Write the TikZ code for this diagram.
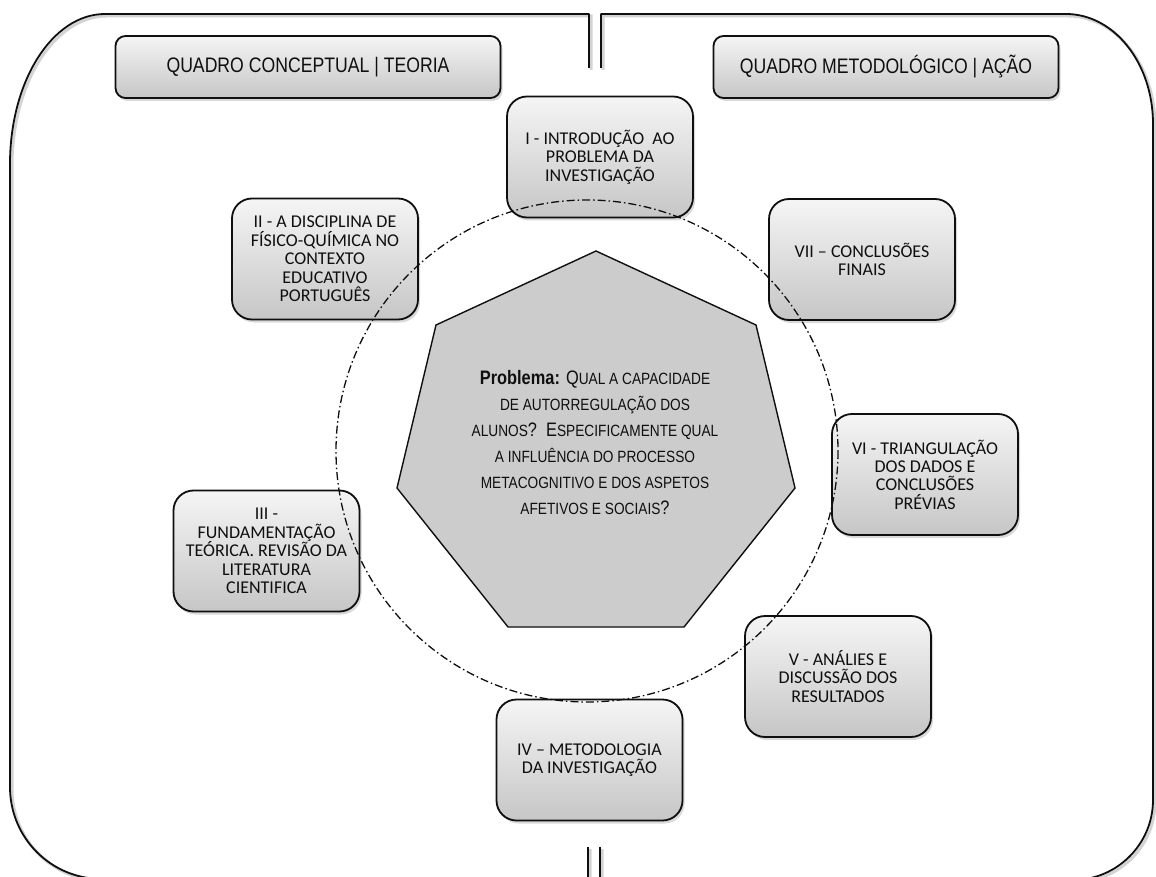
\documentclass[tikz,border=0pt]{standalone}
\usepackage{fontspec}
\setmainfont{Carlito}
\newfontfamily\narrowfont[FakeStretch=0.84]{Liberation Sans}
\newfontfamily\boxfont{Carlito}
\usetikzlibrary{shadows}

\definecolor{boxtop}{RGB}{245,245,245}
\definecolor{boxbottom}{RGB}{198,198,198}
\definecolor{hepfill}{RGB}{204,204,204}
\definecolor{inkdark}{RGB}{15,15,15}

% small-caps look for the central question
\newcommand{\smallcap}[1]{{\fontsize{16.3}{26}\selectfont #1}}

\tikzset{
  stagebox/.style={draw=inkdark, line width=1.8pt, rounded corners=20pt,
    top color=boxtop, bottom color=boxbottom,
    minimum width=186pt, minimum height=121pt, inner sep=0pt,
    align=center, text=inkdark,
    font=\boxfont\fontsize{18}{18.4}\selectfont,
    drop shadow={shadow xshift=2pt, shadow yshift=-3pt, opacity=0.3}},
  titlebox/.style={draw=inkdark, line width=1.8pt, rounded corners=10pt,
    top color=boxtop, bottom color=boxbottom,
    minimum height=62pt, inner sep=0pt, text=inkdark,
    font=\narrowfont\fontsize{21}{24}\selectfont,
    drop shadow={shadow xshift=2pt, shadow yshift=-3pt, opacity=0.3}},
  frameline/.style={line width=1.8pt, line join=round, draw=inkdark},
  frameshade/.style={line width=3pt, draw=gray, opacity=0.35,
    xshift=2pt, yshift=-2pt},
  heptshape/.style={draw=inkdark, line width=1.4pt, fill=hepfill, line join=miter},
  ringline/.style={draw=inkdark, line width=1.3pt,
    dash pattern=on 8pt off 3pt on 1.5pt off 3pt},
  questiontext/.style={align=center, text=inkdark, inner sep=0pt,
    font=\narrowfont\fontsize{19.5}{26}\selectfont},
}

\begin{document}
\begin{tikzpicture}[x=1pt, y=-1pt]
  \useasboundingbox (0,0) rectangle (1156,877);
  \clip (0,0) rectangle (1156,877);

  % outer frame, left and right halves
  \foreach \sty in {frameshade, frameline} {
    \draw[\sty] (589,68) -- (589,14) -- (105,14)
      .. controls (52.5,14) and (10,81) .. (10,164)
      -- (10,787)
      .. controls (10,838) and (51,879) .. (102,879)
      -- (588,879) -- (588,847);
    \draw[\sty] (601,68) -- (601,14) -- (1066,14)
      .. controls (1114,14) and (1153,63) .. (1153,124)
      -- (1153,800)
      .. controls (1153,844) and (1117,880) .. (1073,880)
      -- (600,880) -- (600,847);
  }

  % column headings
  \node[titlebox, minimum width=385pt] (theory) at (308,67)
    {QUADRO CONCEPTUAL | TEORIA};
  \node[titlebox, minimum width=345pt] (method) at (886,67)
    {QUADRO METODOL\'OGICO | A\c{C}\~AO};

  % central heptagon with the research problem
  \draw[heptshape] (596,251) -- (756,325) -- (795,488) -- (684,627)
    -- (508,627) -- (397,488) -- (436,325) -- cycle;
  \node[questiontext] (problem) at (595,443) {%
    \textbf{Problema:} Q\smallcap{UAL A CAPACIDADE}\\
    \smallcap{DE AUTORREGULAÇÃO DOS}\\
    \smallcap{ALUNOS}?\ \ E\smallcap{SPECIFICAMENTE QUAL}\\
    \smallcap{A INFLUÊNCIA DO PROCESSO}\\
    \smallcap{METACOGNITIVO E DOS ASPETOS}\\
    \smallcap{AFETIVOS E SOCIAIS}?};

  % chapter boxes around the problem
  \node[stagebox] (ch1) at (600,157)
    {I - INTRODUÇÃO\ \ AO\\PROBLEMA DA\\INVESTIGAÇÃO};
  \node[stagebox] (ch2) at (325,259)
    {II - A DISCIPLINA DE\\FÍSICO-QUÍMICA NO\\CONTEXTO\\EDUCATIVO\\PORTUGUÊS};
  \node[stagebox] (ch3) at (266.5,551)
    {III -\\FUNDAMENTAÇÃO\\TEÓRICA. REVISÃO DA\\LITERATURA\\CIENTIFICA};
  \node[stagebox] (ch4) at (589.5,760)
    {IV – METODOLOGIA\\DA INVESTIGAÇÃO};
  \node[stagebox] (ch5) at (838,676.5)
    {V - ANÁLIES E\\DISCUSSÃO DOS\\RESULTADOS};
  \node[stagebox] (ch6) at (925,474.5)
    {VI - TRIANGULAÇÃO\\DOS DADOS E\\CONCLUSÕES\\PRÉVIAS};
  \node[stagebox] (ch7) at (862,259.5)
    {VII – CONCLUSÕES\\FINAIS};

  % dash-dot cycle ring over the boxes
  \draw[ringline] (587,451) circle[radius=251];
\end{tikzpicture}
\end{document}
